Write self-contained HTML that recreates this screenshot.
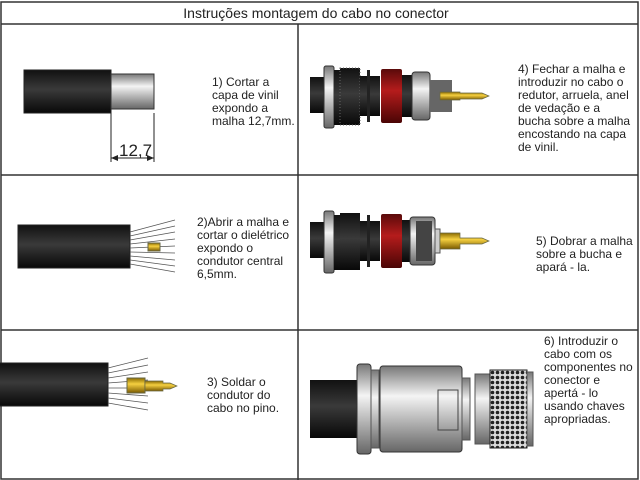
<!DOCTYPE html>
<html><head><meta charset="utf-8"><style>
html,body{margin:0;padding:0;background:#fff;width:640px;height:480px;overflow:hidden}
svg{display:block}
text{font-family:"Liberation Sans",sans-serif;fill:#222}
</style></head><body>
<svg width="640" height="480" viewBox="0 0 640 480" xmlns="http://www.w3.org/2000/svg">
<defs>
<linearGradient id="blk" x1="0" y1="0" x2="0" y2="1"><stop offset="0" stop-color="#111"/><stop offset="0.45" stop-color="#3a3a3a"/><stop offset="1" stop-color="#080808"/></linearGradient>
<linearGradient id="slv" x1="0" y1="0" x2="0" y2="1"><stop offset="0" stop-color="#777"/><stop offset="0.35" stop-color="#f4f4f4"/><stop offset="1" stop-color="#666"/></linearGradient>
<linearGradient id="red" x1="0" y1="0" x2="0" y2="1"><stop offset="0" stop-color="#5a0a0a"/><stop offset="0.4" stop-color="#b51c1c"/><stop offset="1" stop-color="#4a0505"/></linearGradient>
<linearGradient id="gld" x1="0" y1="0" x2="0" y2="1"><stop offset="0" stop-color="#8a6a00"/><stop offset="0.4" stop-color="#f5d040"/><stop offset="1" stop-color="#7a5a00"/></linearGradient>
<pattern id="knurl" width="5" height="5" patternUnits="userSpaceOnUse"><rect width="5" height="5" fill="#ddd"/><circle cx="2.5" cy="2.5" r="1.8" fill="#222"/></pattern>
</defs>
<g stroke="#333" stroke-width="1.5" fill="none">
<rect x="1" y="2" width="637" height="477"/>
<line x1="1" y1="24" x2="638" y2="24"/>
<line x1="1" y1="175" x2="638" y2="175"/>
<line x1="1" y1="330" x2="638" y2="330"/>
<line x1="298" y1="24" x2="298" y2="480"/>
</g>
<text x="316" y="18" font-size="14" text-anchor="middle">Instruções montagem do cabo no conector</text>

<rect x="24" y="70" width="87" height="43" fill="url(#blk)" stroke="#222"/>
<rect x="111" y="74" width="43" height="35" fill="url(#slv)" stroke="#333"/>
<g stroke="#222" stroke-width="1"><line x1="111" y1="113" x2="111" y2="162"/><line x1="154" y1="113" x2="154" y2="162"/><line x1="111" y1="158" x2="154" y2="158"/></g>
<path d="M111 158 l7 -3 v6z M154 158 l-7 -3 v6z" fill="#222"/>
<text x="119" y="156" font-size="17">12,7</text>
<text font-size="12"><tspan x="212" y="86">1) Cortar a</tspan><tspan x="212" y="99">capa de vinil</tspan><tspan x="212" y="112">expondo a</tspan><tspan x="212" y="125">malha 12,7mm.</tspan></text>

<rect x="18" y="225" width="112" height="43" fill="url(#blk)" stroke="#222"/>
<g stroke="#555" stroke-width="0.8">
<line x1="130" y1="232" x2="175" y2="220"/><line x1="130" y1="236" x2="175" y2="226"/><line x1="130" y1="240" x2="175" y2="232"/><line x1="130" y1="244" x2="175" y2="239"/><line x1="130" y1="248" x2="175" y2="246"/><line x1="130" y1="252" x2="175" y2="253"/><line x1="130" y1="256" x2="175" y2="260"/><line x1="130" y1="260" x2="175" y2="266"/><line x1="130" y1="264" x2="175" y2="272"/></g>
<rect x="148" y="243" width="12" height="8" fill="url(#gld)" stroke="#664"/>
<text font-size="12"><tspan x="197" y="226">2)Abrir a malha e</tspan><tspan x="197" y="239">cortar o dielétrico</tspan><tspan x="197" y="252">expondo o</tspan><tspan x="197" y="265">condutor central</tspan><tspan x="197" y="278">6,5mm.</tspan></text>

<rect x="-2" y="363" width="110" height="43" fill="url(#blk)" stroke="#222"/>
<g stroke="#555" stroke-width="0.8">
<line x1="108" y1="368" x2="148" y2="358"/><line x1="108" y1="373" x2="148" y2="365"/><line x1="108" y1="378" x2="148" y2="372"/><line x1="108" y1="383" x2="148" y2="380"/><line x1="108" y1="388" x2="148" y2="388"/><line x1="108" y1="393" x2="148" y2="396"/><line x1="108" y1="398" x2="148" y2="403"/><line x1="108" y1="403" x2="148" y2="410"/></g>
<rect x="127" y="378" width="18" height="15" fill="url(#gld)" stroke="#664"/>
<path d="M145 381 h18 v2 h7 l7 3 l-7 3 h-7 v2 h-18z" fill="url(#gld)" stroke="#664" stroke-width="0.7"/>
<text font-size="12"><tspan x="207" y="386">3) Soldar o</tspan><tspan x="207" y="399">condutor do</tspan><tspan x="207" y="412">cabo no pino.</tspan></text>

<g>
<rect x="310" y="77" width="16" height="36" fill="url(#blk)"/>
<rect x="324" y="66" width="10" height="62" rx="2" fill="url(#slv)" stroke="#333"/>
<rect x="334" y="70" width="6" height="55" fill="url(#blk)"/>
<rect x="340" y="68" width="20" height="57" fill="url(#blk)" stroke="#666" stroke-dasharray="1 2"/>
<rect x="360" y="76" width="20" height="40" fill="url(#blk)"/>
<rect x="367" y="70" width="3" height="52" fill="#222"/>
<rect x="381" y="69" width="21" height="54" rx="2" fill="url(#red)"/>
<rect x="402" y="75" width="10" height="42" fill="url(#blk)"/>
<rect x="412" y="72" width="18" height="48" rx="3" fill="url(#slv)" stroke="#333"/>
<rect x="430" y="80" width="22" height="32" fill="#666"/>
<path d="M440 92 h20 v1 h22 l7 3 l-7 3 h-22 v1 h-20z" fill="url(#gld)" stroke="#664" stroke-width="0.7"/>
</g>
<g transform="translate(0,145)">
<rect x="310" y="77" width="16" height="36" fill="url(#blk)"/>
<rect x="324" y="66" width="10" height="62" rx="2" fill="url(#slv)" stroke="#333"/>
<rect x="334" y="70" width="6" height="55" fill="url(#blk)"/>
<rect x="340" y="68" width="20" height="57" fill="url(#blk)"/>
<rect x="360" y="76" width="20" height="40" fill="url(#blk)"/>
<rect x="367" y="70" width="3" height="52" fill="#222"/>
<rect x="381" y="69" width="21" height="54" rx="2" fill="url(#red)"/>
<rect x="402" y="75" width="10" height="42" fill="url(#blk)"/>
<rect x="410" y="72" width="25" height="48" rx="3" fill="url(#slv)" stroke="#333"/>
<rect x="416" y="76" width="16" height="40" fill="#444"/>
<rect x="435" y="84" width="5" height="24" fill="#ccc" stroke="#555"/>
<path d="M440 88 h20 v5 h22 l7 3 l-7 3 h-22 v5 h-20z" fill="url(#gld)" stroke="#664" stroke-width="0.7"/>
</g>
<text font-size="12"><tspan x="518" y="73">4) Fechar a malha e</tspan><tspan x="518" y="86">introduzir no cabo o</tspan><tspan x="518" y="99">redutor, arruela, anel</tspan><tspan x="518" y="112">de vedação e a</tspan><tspan x="518" y="125">bucha sobre a malha</tspan><tspan x="518" y="138">encostando na capa</tspan><tspan x="518" y="151">de vinil.</tspan></text>
<text font-size="12"><tspan x="536" y="245">5) Dobrar a malha</tspan><tspan x="536" y="258">sobre a bucha e</tspan><tspan x="536" y="271">apará - la.</tspan></text>

<rect x="310" y="380" width="50" height="58" fill="url(#blk)"/>
<rect x="357" y="364" width="14" height="90" rx="3" fill="url(#slv)" stroke="#333"/>
<rect x="371" y="370" width="8" height="78" fill="url(#slv)" stroke="#555"/>
<rect x="380" y="366" width="82" height="86" rx="3" fill="url(#slv)" stroke="#333"/>
<rect x="438" y="390" width="20" height="40" fill="none" stroke="#444"/>
<rect x="462" y="378" width="8" height="62" fill="url(#slv)" stroke="#555"/>
<rect x="475" y="374" width="15" height="70" fill="url(#slv)" stroke="#555"/>
<rect x="490" y="370" width="37" height="78" fill="url(#knurl)" stroke="#222"/>
<rect x="527" y="372" width="6" height="74" fill="url(#slv)" stroke="#555"/>
<text font-size="12"><tspan x="544" y="345">6) Introduzir o</tspan><tspan x="544" y="358">cabo com os</tspan><tspan x="544" y="371">componentes no</tspan><tspan x="544" y="384">conector e</tspan><tspan x="544" y="397">apertá - lo</tspan><tspan x="544" y="410">usando chaves</tspan><tspan x="544" y="423">apropriadas.</tspan></text>
</svg>
</body></html>
